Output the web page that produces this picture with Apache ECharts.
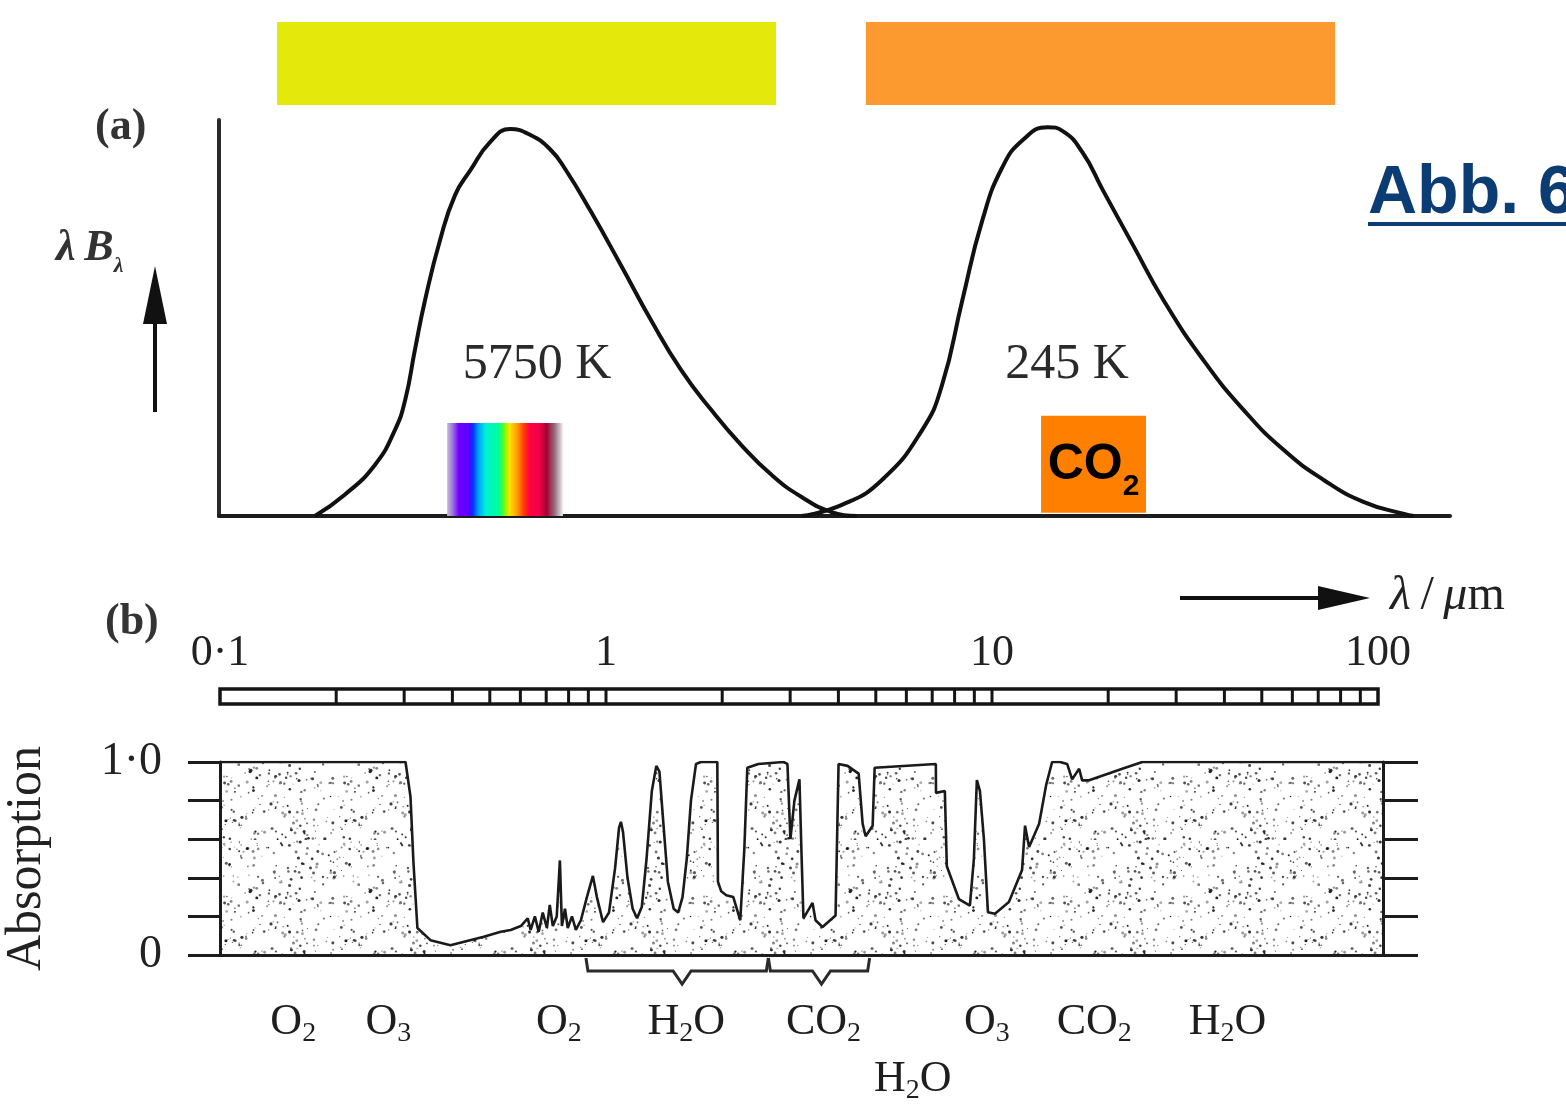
<!DOCTYPE html>
<html><head><meta charset="utf-8">
<script src="https://cdn.jsdelivr.net/npm/echarts@6/dist/echarts.min.js"></script>
<style>html,body{margin:0;padding:0;background:#fff;overflow:hidden}#c{width:1566px;height:1106px}</style>
</head><body><div id="c"></div>
<script>
// ---------- data ----------
const sunLambda  = [0.177,0.211,0.253,0.285,0.303,0.321,0.341,0.373,0.408,0.446,0.503,0.566,0.639,0.720,0.787,0.914,1.094,1.309,1.566,1.874,2.242,2.683,3.21,3.84,4.46];
const sunValue   = [0,0.053,0.129,0.217,0.293,0.419,0.545,0.697,0.811,0.872,0.945,0.977,0.962,0.925,0.875,0.770,0.634,0.495,0.369,0.268,0.179,0.104,0.048,0.010,0];
const earthLambda= [3.21,4.08,5.18,6.58,7.41,8.36,9.42,10.6,12.0,13.9,15.2,17.1,19.3,23.1,27.7,35.1,44.6,56.6,71.9,91.4,116,123];
const earthValue = [0,0.028,0.091,0.217,0.331,0.545,0.747,0.880,0.950,0.982,0.972,0.918,0.823,0.684,0.545,0.394,0.268,0.167,0.091,0.035,0.005,0];

const absLambda = [0.1,0.301,0.310,0.3155,0.323,0.349,0.393,0.479,0.530,0.562,0.597,0.622,0.633,0.649,0.664,0.680,0.697,0.709,0.722,0.739,0.753,0.762,0.776,0.789,0.809,0.828,0.853,0.884,0.916,0.938,0.973,1.008,1.045,1.070,1.082,1.095,1.125,1.16,1.191,1.225,1.26,1.30,1.335,1.36,1.39,1.43,1.48,1.52,1.56,1.60,1.64,1.69,1.74,1.918,1.925,1.963,2.023,2.109,2.198,2.252,2.292,2.447,2.840,2.909,2.961,3.032,3.124,3.162,3.199,3.376,3.437,3.583,3.871,3.941,4.157,4.440,4.547,4.629,4.825,4.883,7.023,7.03,7.409,7.497,8.052,8.597,8.805,8.961,9.125,9.344,9.570,9.977,10.84,11.72,11.93,12.22,12.97,13.52,14.01,14.69,15.32,15.78,16.45,16.75,17.46,21.26,23.94,100];
const absValue  = [1.0,1.0,0.82,0.48,0.14,0.077,0.051,0.094,0.12,0.13,0.15,0.19,0.13,0.20,0.12,0.22,0.14,0.26,0.15,0.20,0.49,0.15,0.24,0.14,0.20,0.13,0.18,0.30,0.41,0.30,0.17,0.22,0.45,0.66,0.69,0.64,0.40,0.24,0.19,0.25,0.50,0.85,0.98,0.95,0.70,0.38,0.24,0.22,0.30,0.50,0.80,0.99,1.0,1.0,0.38,0.33,0.31,0.30,0.18,0.55,0.97,0.99,1.0,0.99,0.60,0.80,0.91,0.53,0.19,0.27,0.18,0.145,0.205,0.99,0.98,0.94,0.68,0.615,0.67,0.97,0.99,0.84,0.85,0.46,0.29,0.256,0.50,0.906,0.85,0.60,0.222,0.214,0.274,0.44,0.67,0.56,0.68,0.88,1.0,1.0,0.99,0.91,0.965,0.905,0.905,0.965,1.0,1.0];

const scaleTicks = [0.2,0.3,0.4,0.5,0.6,0.7,0.8,0.9,1,2,3,4,5,6,7,8,9,10,20,30,40,50,60,70,80,90];
const decadeLabels = ['0·1','1','10','100'];
const absTickLabels = {0:'0', 1:'1·0'};

const bandSpans = [[0.1413,2.757],[4.711,76.9]];
const boxSpans  = [[0.389,0.775,0,0.235],[13.36,24.96,0.008,0.253]];
const molLabels = ['O2','O3','O2','H2O','CO2','O3','CO2','H2O','H2O'];
const molLambda = [0.1545,0.272,0.748,1.594,3.604,9.51,17.99,39.7,6.12];
const molRow    = [0,0,0,0,0,0,0,0,1];
const braceFrom = [0.879,2.597];
const braceTo   = [2.597,4.740];
const braceTip  = [1.556,3.561];

// ---------- styles ----------
const SERIF = '"Liberation Serif", "DejaVu Serif", serif';
const SANS = '"Liberation Sans", Arial, sans-serif';
const bandColors = ['#E5E80B','#FC9A30'];
const INK = '#1c1c1c';

function stipple(){
  const c=document.createElement('canvas'); c.width=120; c.height=120;
  const g=c.getContext('2d');
  let s=9871; const rnd=()=>{s=(s*16807)%2147483647; return s/2147483647;};
  for(let i=0;i<260;i++){
    const x=rnd()*120,y=rnd()*120,r=0.5+rnd()*1.1,a=0.35+rnd()*0.6;
    g.fillStyle='rgba(20,20,20,'+a.toFixed(2)+')';
    g.beginPath(); g.arc(x,y,r,0,Math.PI*2); g.fill();
  }
  return c;
}
function richText(str){
  return str.replace(/([A-Za-z]+)|(\d+)/g,(m,a,d)=>a?'{m|'+a+'}':'{s|'+d+'}');
}

const chart = echarts.init(document.getElementById('c'), null, {renderer:'canvas'});
const hidden = {show:false};
const noAxisBits = {axisLabel:hidden, axisTick:hidden, splitLine:hidden};

const option = {
  animation:false,
  backgroundColor:'#fff',
  grid:[
    {left:219, top:22, width:1231, height:83, outerBoundsMode:'none'},
    {left:219, top:120, width:1231, height:396, outerBoundsMode:'none'},
    {left:220, top:689, width:1158, height:15, show:true, borderColor:'#141414', borderWidth:3.5, backgroundColor:'#fff', outerBoundsMode:'none'},
    {left:220, top:762, width:1163, height:193, outerBoundsMode:'none'}
  ],
  xAxis:[
    Object.assign({gridIndex:0, type:'log', min:0.1, max:152.5, axisLine:hidden}, noAxisBits),
    Object.assign({gridIndex:1, type:'log', min:0.1, max:152.5, axisLine:{show:true, lineStyle:{color:INK, width:4}}}, noAxisBits),
    {gridIndex:2, type:'log', min:0.1, max:100, position:'top', axisLine:hidden, axisTick:hidden, splitLine:hidden,
      axisLabel:{show:true, showMinLabel:true, showMaxLabel:true, margin:14, fontSize:44, fontFamily:SERIF, color:'#222',
        formatter:v=>decadeLabels[Math.round(Math.log10(v))+1]||''}},
    Object.assign({gridIndex:3, type:'log', min:0.1, max:100, axisLine:{show:true, onZero:false, lineStyle:{color:INK, width:3}}}, noAxisBits)
  ],
  yAxis:[
    Object.assign({gridIndex:0, type:'value', min:0, max:1, axisLine:hidden}, noAxisBits),
    Object.assign({gridIndex:1, type:'value', min:0, max:1, axisLine:{show:true, lineStyle:{color:'#2a2a2a', width:4}}}, noAxisBits),
    Object.assign({gridIndex:2, type:'value', min:0, max:1, axisLine:hidden}, noAxisBits),
    {gridIndex:3, type:'value', min:0, max:1, interval:0.2, position:'left',
      axisLine:{show:true, lineStyle:{color:INK, width:3}},
      axisTick:{show:true, inside:false, length:32, lineStyle:{color:INK, width:3}},
      splitLine:hidden,
      axisLabel:{show:true, margin:58, fontSize:46, fontFamily:SERIF, color:'#222',
        formatter:v=>absTickLabels[v]!==undefined?absTickLabels[v]:''},
      name:'Absorption', nameLocation:'middle', nameRotate:90, nameGap:168,
      nameTextStyle:{fontSize:50, fontFamily:SERIF, color:'#222'}},
    {gridIndex:3, type:'value', min:0, max:1, interval:0.2, position:'right',
      axisLine:{show:true, lineStyle:{color:INK, width:3}},
      axisTick:{show:true, inside:false, length:35, lineStyle:{color:INK, width:3}},
      splitLine:hidden, axisLabel:hidden}
  ],
  series:[
    {type:'custom', xAxisIndex:0, yAxisIndex:0, silent:true,
      data:bandSpans.map(b=>[b[0],b[1]]),
      renderItem:(p,api)=>{
        const a=api.coord([api.value(0),0]), b=api.coord([api.value(1),1]);
        return {type:'rect', shape:{x:a[0], y:b[1], width:b[0]-a[0], height:a[1]-b[1]}, style:{fill:bandColors[p.dataIndex]}};
      }},
    {type:'line', xAxisIndex:1, yAxisIndex:1, symbol:'none', smooth:0.5, clip:false,
      data:sunLambda.map((l,i)=>[l,sunValue[i]]), lineStyle:{color:'#111', width:4}},
    {type:'line', xAxisIndex:1, yAxisIndex:1, symbol:'none', smooth:0.5, clip:false,
      data:earthLambda.map((l,i)=>[l,earthValue[i]]), lineStyle:{color:'#111', width:4}},
    {type:'custom', xAxisIndex:1, yAxisIndex:1, silent:true, z:5,
      data:boxSpans.map(b=>[b[0],b[1],b[2],b[3]]),
      renderItem:(p,api)=>{
        const a=api.coord([api.value(0),api.value(2)]), b=api.coord([api.value(1),api.value(3)]);
        const x=a[0], y=b[1], w=b[0]-a[0], h=a[1]-b[1];
        if(p.dataIndex===0){
          return {type:'rect', shape:{x,y,width:w,height:h}, style:{fill:{type:'linear',x:0,y:0,x2:1,y2:0,colorStops:[
            {offset:0,color:'#c8bcd8'},{offset:0.05,color:'#9a70e0'},{offset:0.1,color:'#7000ff'},{offset:0.19,color:'#5a00ff'},
            {offset:0.22,color:'#0030ff'},{offset:0.27,color:'#00a0ff'},{offset:0.33,color:'#00f0d8'},{offset:0.45,color:'#00ff90'},
            {offset:0.5,color:'#80ff00'},{offset:0.54,color:'#ffe000'},{offset:0.6,color:'#ffa000'},{offset:0.66,color:'#ff4000'},
            {offset:0.71,color:'#ff0040'},{offset:0.8,color:'#f00048'},{offset:0.86,color:'#a00030'},{offset:0.93,color:'#987080'},
            {offset:1,color:'#f2eeee'}]}}};
        }
        return {type:'group', children:[
          {type:'rect', shape:{x,y,width:w,height:h}, style:{fill:'#FF7F00'}},
          {type:'text', x:x+w/2, y:y+24, style:{text:'{m|CO}{s|2}', align:'center', verticalAlign:'top',
            rich:{m:{fontFamily:SANS, fontWeight:'bold', fontSize:50, lineHeight:62, verticalAlign:'top', fill:'#000'},
                  s:{fontFamily:SANS, fontWeight:'bold', fontSize:30, verticalAlign:'bottom', fill:'#000'}}}}
        ]};
      }},
    {type:'custom', xAxisIndex:2, yAxisIndex:2, silent:true,
      data:scaleTicks.map(v=>[v,0]),
      renderItem:(p,api)=>{
        const a=api.coord([api.value(0),0]), b=api.coord([api.value(0),1]);
        return {type:'line', shape:{x1:a[0],y1:a[1],x2:b[0],y2:b[1]}, style:{stroke:'#141414', lineWidth:3}};
      }},
    {type:'line', xAxisIndex:3, yAxisIndex:3, symbol:'none', smooth:false,
      data:absLambda.map((l,i)=>[l,absValue[i]]),
      lineStyle:{color:'#1a1a1a', width:2.6},
      areaStyle:{color:{image:stipple(), repeat:'repeat'}, opacity:1}},
    {type:'custom', xAxisIndex:3, yAxisIndex:3, silent:true,
      data:molLambda.map((l,i)=>[l,0]),
      renderItem:(p,api)=>{
        const pt=api.coord([api.value(0),0]);
        const i=p.dataIndex;
        return {type:'text', x:pt[0], y:pt[1]+45+molRow[i]*57, style:{text:richText(molLabels[i]), align:'center', verticalAlign:'top',
          rich:{m:{fontFamily:SERIF, fontSize:44, lineHeight:48, verticalAlign:'top', fill:'#1e1e1e'},
                s:{fontFamily:SERIF, fontSize:28, verticalAlign:'bottom', fill:'#1e1e1e'}}}};
      }},
    {type:'custom', xAxisIndex:3, yAxisIndex:3, silent:true,
      data:braceFrom.map((l,i)=>[l,0]),
      renderItem:(p,api)=>{
        const i=p.dataIndex;
        const a=api.coord([braceFrom[i],0]), b=api.coord([braceTo[i],0]), t=api.coord([braceTip[i],0]);
        const y0=a[1]+3, y1=a[1]+16, y2=a[1]+29;
        return {type:'polyline', shape:{points:[[a[0],y0],[a[0]+2,y1],[t[0]-9,y1],[t[0],y2],[t[0]+9,y1],[b[0]-2,y1],[b[0],y0]]},
          style:{stroke:'#2a2a2a', lineWidth:3, fill:null}};
      }}
  ],
  graphic:[
    {type:'text', left:95, top:106, style:{text:'(a)', font:'bold 44px '+SERIF, fill:'#333'}},
    {type:'text', x:56, y:227, style:{text:'{i|λ\u2009B}{s|λ}', verticalAlign:'top',
      rich:{i:{fontFamily:SERIF, fontStyle:'italic', fontWeight:'bold', fontSize:44, lineHeight:50, verticalAlign:'top', fill:'#333'},
            s:{fontFamily:SERIF, fontStyle:'italic', fontWeight:'bold', fontSize:22, verticalAlign:'bottom', fill:'#333'}}}},
    {type:'line', shape:{x1:155,y1:412,x2:155,y2:312}, style:{stroke:'#111', lineWidth:4}},
    {type:'polygon', shape:{points:[[155,266],[143,324],[167,324]]}, style:{fill:'#111'}},
    {type:'text', x:537, y:365, style:{text:'5750 K', font:'50px '+SERIF, fill:'#2a2a2a', align:'center', verticalAlign:'middle'}},
    {type:'text', x:1067, y:365, style:{text:'245 K', font:'50px '+SERIF, fill:'#2a2a2a', align:'center', verticalAlign:'middle'}},
    {type:'text', x:1368, y:194, style:{text:'Abb. 6', font:'bold 68px '+SANS, fill:'#0B3C73', align:'left', verticalAlign:'middle'}},
    {type:'line', shape:{x1:1368,y1:224,x2:1570,y2:224}, style:{stroke:'#0B3C73', lineWidth:4}},
    {type:'text', left:105, top:601, style:{text:'(b)', font:'bold 44px '+SERIF, fill:'#333'}},
    {type:'line', shape:{x1:1180,y1:598,x2:1322,y2:598}, style:{stroke:'#111', lineWidth:4}},
    {type:'polygon', shape:{points:[[1370,598],[1318,586],[1318,610]]}, style:{fill:'#111'}},
    {type:'text', x:1390, y:596, style:{text:'{i|λ}{n|\u2009/\u2009}{i|μ}{n|m}', verticalAlign:'middle',
      rich:{i:{fontFamily:SERIF, fontStyle:'italic', fontSize:48, fill:'#222'}, n:{fontFamily:SERIF, fontSize:48, fill:'#222'}}}}
  ]
};
chart.setOption(option);
</script></body></html>
